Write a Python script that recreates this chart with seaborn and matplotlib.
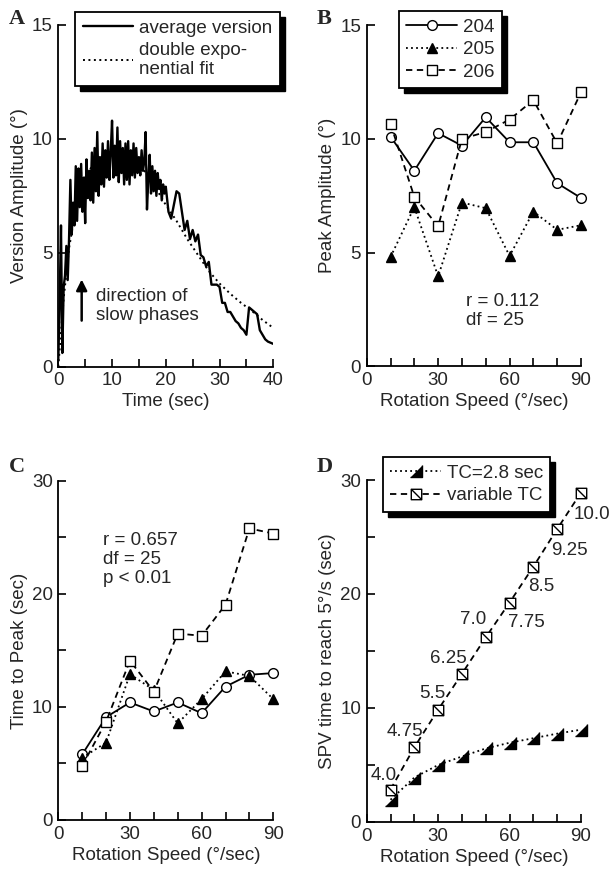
import numpy as np
import matplotlib.pyplot as plt
import seaborn as sns
from matplotlib.path import Path
from matplotlib.patches import Rectangle
from matplotlib.ticker import MultipleLocator

sns.set_style("ticks")
plt.rcParams['font.family'] = ['Liberation Sans', 'DejaVu Sans']
FS = 13.5
plt.rcParams['font.size'] = FS

# panel A: average version trace (sampled 0.25 s up to 20 s, then 0.5 s)
version_time = np.concatenate([np.arange(0, 20.01, 0.25), np.arange(20.5, 40.01, 0.5)])
version_amp = [
    0.3, 2.8, 6.2, 0.6, 3.5,
    4.0, 5.3, 3.8, 5.6,
    8.2, 5.8, 7.2, 6.2,
    8.8, 6.4, 8.7, 7.0,
    8.9, 6.8, 8.3, 6.3,
    9.1, 7.4, 8.6, 7.3,
    9.4, 7.2, 9.6, 7.7,
    10.3, 7.5, 9.2, 8.0,
    9.8, 7.9, 9.5, 8.3,
    9.9, 8.2, 9.4, 10.8,
    8.3, 9.7, 8.4, 10.5,
    8.1, 9.9, 8.5, 9.6,
    8.0, 9.8, 8.2, 9.9,
    8.0, 9.5, 8.4, 9.8,
    8.3, 9.6, 8.5, 9.2,
    8.4, 9.5, 8.6, 9.0,
    10.3, 6.9, 8.2, 9.3,
    7.6, 8.8, 7.7, 8.6,
    7.5, 8.5, 7.8, 8.2,
    7.3, 8.0, 7.6, 7.9,
    6.8, 6.5, 7.1, 7.7, 7.6, 6.8, 6.0, 6.4, 5.6, 6.0,
    5.5, 5.8, 4.9, 4.8, 4.4, 4.6, 3.6, 3.6, 3.6, 3.5,
    2.8, 2.8, 2.4, 2.4, 2.2, 2.0, 1.9, 1.7, 1.6, 1.4,
    2.6, 2.5, 2.4, 2.3, 1.6, 1.4, 1.2, 1.1, 1.05, 1.0,
]
fit_time = [0, 1, 2, 3, 4, 5, 6, 8, 10, 12, 14, 16, 18, 20, 22, 24, 26, 28, 30, 32, 34, 36, 38, 40]
fit_amp = [0, 3.0, 5.2, 6.6, 7.6, 8.3, 8.7, 9.2, 9.4, 9.3, 9.0, 8.6, 7.9, 7.1, 6.4, 5.6, 4.9, 4.2,
           3.65, 3.2, 2.8, 2.45, 2.05, 1.7]

# panels B-D
speed = [10, 20, 30, 40, 50, 60, 70, 80, 90]
peak_204 = [10.1, 8.6, 10.25, 9.7, 10.95, 9.85, 9.85, 8.05, 7.4]
peak_205 = [4.8, 7.0, 3.95, 7.2, 6.95, 4.85, 6.8, 6.0, 6.2]
peak_206 = [10.65, 7.45, 6.15, 10.0, 10.3, 10.85, 11.7, 9.8, 12.05]
ttp_204 = [5.8, 9.1, 10.4, 9.6, 10.4, 9.45, 11.8, 12.85, 13.0]
ttp_205 = [5.5, 6.85, 12.9, 11.5, 8.55, 10.7, 13.15, 12.75, 10.7]
ttp_206 = [4.8, 8.7, 14.1, 11.35, 16.5, 16.3, 19.05, 25.8, 25.35]
spv_fixed = [1.95, 3.9, 5.0, 5.75, 6.45, 6.95, 7.35, 7.75, 8.1]
spv_var = [2.85, 6.55, 9.85, 13.0, 16.2, 19.25, 22.4, 25.7, 28.9]
tc_labels = ["4.0", "4.75", "5.5", "6.25", "7.0", "7.75", "8.5", "9.25", "10.0"]
tc_label_x = [7.0, 16.1, 27.7, 34.3, 44.8, 67.2, 73.5, 85.1, 94.5]
tc_label_y = [4.05, 7.95, 11.25, 14.3, 17.8, 17.5, 20.7, 23.8, 27.0]

dotted = (0, (1, 1.8))
dashed = (0, (3.5, 2.5))
tri_right = [(-1, -1), (1, -1), (1, 1)]
sq_diag = Path([(-1, -1), (1, -1), (1, 1), (-1, 1), (-1, -1), (-1, 1), (1, -1)],
               [Path.MOVETO, Path.LINETO, Path.LINETO, Path.LINETO, Path.CLOSEPOLY,
                Path.MOVETO, Path.LINETO])


def style(ax, xmaj, xmin, ymaj, ymin, xlim, ylim):
    sns.despine(ax=ax)
    ax.set_xlim(*xlim)
    ax.set_ylim(*ylim)
    ax.xaxis.set_major_locator(MultipleLocator(xmaj))
    ax.xaxis.set_minor_locator(MultipleLocator(xmin))
    ax.yaxis.set_major_locator(MultipleLocator(ymaj))
    ax.yaxis.set_minor_locator(MultipleLocator(ymin))
    ax.tick_params(which='both', direction='in', length=6, width=1.2,
                   color='black', labelsize=FS, pad=4)
    for s in ['left', 'bottom']:
        ax.spines[s].set_linewidth(1.3)
        ax.spines[s].set_color('black')
    ax.grid(False)
    ax.patch.set_visible(False)


def legend(ax, anchor):
    leg = ax.legend(loc='upper left', bbox_to_anchor=anchor, frameon=True, fancybox=False,
                    shadow=False, edgecolor='black', framealpha=1, handlelength=2.7,
                    borderpad=0.4, labelspacing=0.28, handletextpad=0.3, fontsize=FS,
                    borderaxespad=0)
    leg.get_frame().set_linewidth(1.3)
    return leg


fig = plt.figure(figsize=(6.13, 8.74), dpi=100)
ax_a = fig.add_axes([0.0951, 0.5805, 0.3507, 0.3909])
ax_b = fig.add_axes([0.5982, 0.5810, 0.3496, 0.3902])
ax_c = fig.add_axes([0.0951, 0.0618, 0.3507, 0.3879])
ax_d = fig.add_axes([0.5982, 0.0595, 0.3496, 0.3913])

# A
sns.lineplot(x=version_time, y=version_amp, ax=ax_a, color='black', lw=1.7,
             sort=False, estimator=None, label='average version', legend=False)
sns.lineplot(x=fit_time, y=fit_amp, ax=ax_a, color='black', lw=1.4, linestyle=dotted,
             sort=False, estimator=None, label='double expo-\nnential fit', legend=False)
style(ax_a, 10, 5, 5, 5, (0, 40), (0, 15))
ax_a.set_xlabel('Time (sec)', fontsize=FS, labelpad=3)
ax_a.set_ylabel('Version Amplitude (°)', fontsize=FS, labelpad=3)
leg_a = legend(ax_a, (0.079, 1.038))
ax_a.annotate('', xy=(4.35, 3.95), xytext=(4.35, 1.9),
              arrowprops=dict(arrowstyle='-|>', color='black', lw=1.8, mutation_scale=16))
ax_a.text(7.1, 2.65, 'direction of\nslow phases', ha='left', va='center', fontsize=FS,
          linespacing=1.15)

# B
common = dict(color='black', lw=1.3, markeredgecolor='black', markeredgewidth=1,
              legend=False, clip_on=False)
sns.lineplot(x=speed, y=peak_204, ax=ax_b, marker='o', markersize=7,
             markerfacecolor='white', linestyle='-', label='204', **common)
sns.lineplot(x=speed, y=peak_205, ax=ax_b, marker='^', markersize=7.5,
             markerfacecolor='black', linestyle=dotted, label='205', **common)
sns.lineplot(x=speed, y=peak_206, ax=ax_b, marker='s', markersize=7,
             markerfacecolor='white', linestyle=dashed, label='206', **common)
style(ax_b, 30, 10, 5, 5, (0, 90), (0, 15))
ax_b.set_xlabel('Rotation Speed (°/sec)', fontsize=FS, labelpad=3)
ax_b.set_ylabel('Peak Amplitude (°)', fontsize=FS, labelpad=3)
leg_b = legend(ax_b, (0.15, 1.041))
ax_b.text(41.6, 2.42, 'r = 0.112\ndf = 25', ha='left', va='center', fontsize=FS,
          linespacing=1.15)

# C
sns.lineplot(x=speed, y=ttp_204, ax=ax_c, marker='o', markersize=7,
             markerfacecolor='white', linestyle='-', **common)
sns.lineplot(x=speed, y=ttp_205, ax=ax_c, marker='^', markersize=7.5,
             markerfacecolor='black', linestyle=dotted, **common)
sns.lineplot(x=speed, y=ttp_206, ax=ax_c, marker='s', markersize=7,
             markerfacecolor='white', linestyle=dashed, **common)
style(ax_c, 30, 10, 10, 5, (0, 90), (0, 30))
ax_c.set_xlabel('Rotation Speed (°/sec)', fontsize=FS, labelpad=3)
ax_c.set_ylabel('Time to Peak (sec)', fontsize=FS, labelpad=3)
ax_c.text(18.7, 23.05, 'r = 0.657\ndf = 25\np < 0.01', ha='left', va='center',
          fontsize=FS, linespacing=1.15)

# D
sns.lineplot(x=speed, y=spv_fixed, ax=ax_d, marker=tri_right, markersize=8,
             markerfacecolor='black', linestyle=dotted, label='TC=2.8 sec', **common)
sns.lineplot(x=speed, y=spv_var, ax=ax_d, marker=sq_diag, markersize=7.5,
             markerfacecolor='white', linestyle=dashed, label='variable TC', **common)
style(ax_d, 30, 10, 10, 5, (0, 90), (0, 30))
ax_d.set_xlabel('Rotation Speed (°/sec)', fontsize=FS, labelpad=3)
ax_d.set_ylabel('SPV time to reach 5°/s (sec)', fontsize=FS, labelpad=3)
leg_d = legend(ax_d, (0.075, 1.067))
for lx, ly, lt in zip(tc_label_x, tc_label_y, tc_labels):
    ax_d.text(lx, ly, lt, ha='center', va='center', fontsize=FS, clip_on=False)

for letter, px, py in [('A', 17, 19), ('B', 324, 19), ('C', 17, 467), ('D', 325, 467)]:
    fig.text(px / 613, 1 - py / 874, letter, ha='center', va='center',
             family=['Liberation Serif', 'DejaVu Serif'], fontweight='bold', fontsize=16)

# heavy drop shadows behind the legend boxes
fig.canvas.draw()
for leg in [leg_a, leg_b, leg_d]:
    bb = leg.get_frame().get_window_extent()
    fig.patches.append(Rectangle((bb.x0 + 5, bb.y0 - 5), bb.width, bb.height,
                                 transform=None, facecolor='black', edgecolor='black',
                                 zorder=-1))

fig.savefig('out.png', dpi=100)
